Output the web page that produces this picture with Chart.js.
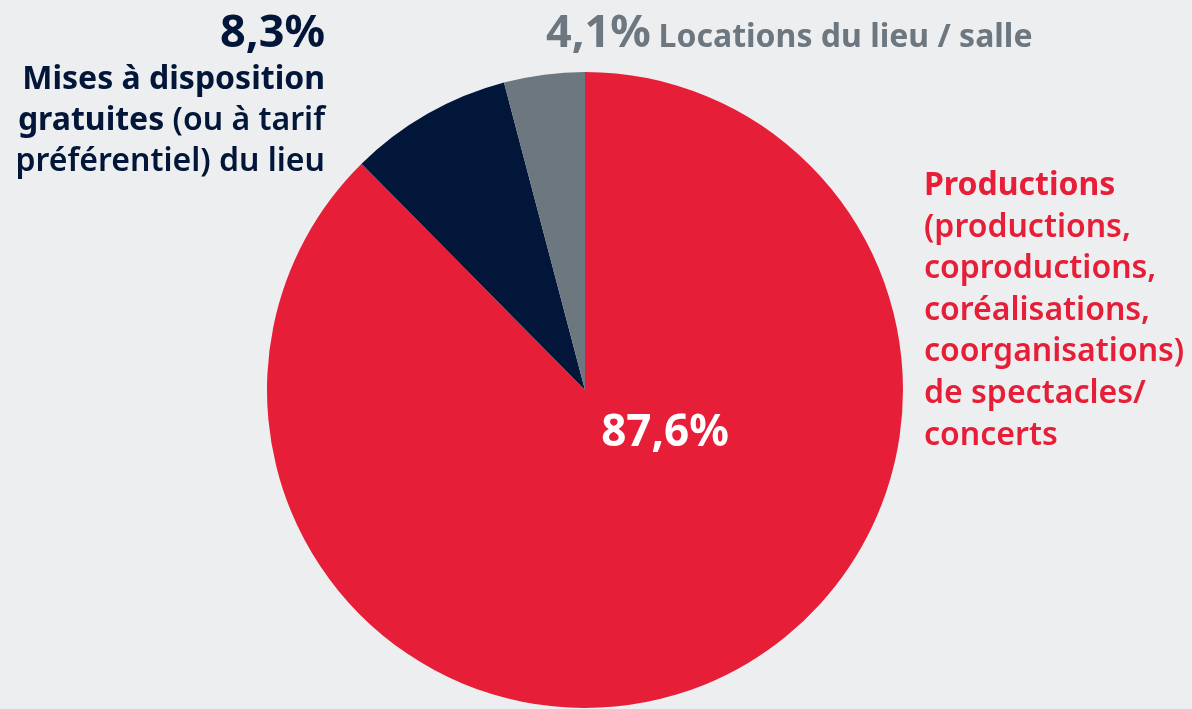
<!DOCTYPE html>
<html><head><meta charset="utf-8">
<script src="https://cdn.jsdelivr.net/npm/chart.js@4.4.1/dist/chart.umd.min.js"></script>
<style>
html,body{margin:0;padding:0;background:#EDEEF0;}
#wrap{width:1192px;height:709px;position:relative;}
</style></head><body>
<div id="wrap"><canvas id="c" width="1192" height="709"></canvas></div>
<script>
const categories = ["Productions (productions, coproductions, coréalisations, coorganisations) de spectacles/concerts", "Mises à disposition gratuites (ou à tarif préférentiel) du lieu", "Locations du lieu / salle"];
const values = [87.6, 8.3, 4.1];
const valueLabels = ["87,6%", "8,3%", "4,1%"];
const colors = ["#E61E37", "#011638", "#6C7780"];

const FONT = "'Noto Sans', 'Open Sans', sans-serif";
const MED = "600";

function drawRuns(ctx, runs, x, y, align, size, color) {
  let widths = runs.map(r => { ctx.font = r[1] + " " + size + "px " + FONT; return ctx.measureText(r[0]).width; });
  let total = widths.reduce((a, b) => a + b, 0);
  let cx = align === "right" ? x - total : x;
  ctx.fillStyle = color;
  ctx.textAlign = "left";
  ctx.textBaseline = "alphabetic";
  runs.forEach((r, i) => { ctx.font = r[1] + " " + size + "px " + FONT; ctx.fillText(r[0], cx, y); cx += widths[i]; });
  return total;
}

const labelPlugin = {
  id: "labels",
  afterDraw(chart) {
    const ctx = chart.ctx;
    ctx.save();
    // 8,3% block
    drawRuns(ctx, [[valueLabels[1], "bold"]], 325, 47, "right", 45, colors[1]);
    drawRuns(ctx, [["Mises à disposition", "bold"]], 325, 89, "right", 32, colors[1]);
    drawRuns(ctx, [["gratuites ", "bold"], ["(ou à tarif", MED]], 325, 130, "right", 32, colors[1]);
    drawRuns(ctx, [["préférentiel) du lieu", MED]], 325, 171, "right", 32, colors[1]);
    // 4,1% block
    ctx.font = "bold 45px " + FONT;
    const w41 = ctx.measureText(valueLabels[2] + " ").width;
    drawRuns(ctx, [[valueLabels[2] + " ", "bold"]], 546, 47, "left", 45, colors[2]);
    drawRuns(ctx, [["Locations du lieu / salle", "bold"]], 546 + w41 - 4, 47, "left", 32, colors[2]);
    // Productions block
    const lines = [["Productions", "bold"], ["(productions,", MED], ["coproductions,", MED], ["coréalisations,", MED], ["coorganisations)", MED], ["de spectacles/", MED], ["concerts", MED]];
    lines.forEach((l, i) => drawRuns(ctx, [l], 924, 195 + i * 41.6, "left", 32, colors[0]));
    // center value
    ctx.font = "bold 44px " + FONT;
    ctx.fillStyle = "#FFFFFF";
    ctx.textAlign = "center";
    ctx.textBaseline = "alphabetic";
    ctx.fillText(valueLabels[0], 665, 446);
    ctx.restore();
  }
};

new Chart(document.getElementById("c"), {
  type: "pie",
  data: { labels: categories, datasets: [{ data: values, backgroundColor: colors, borderWidth: 0 }] },
  options: {
    responsive: false,
    animation: false,
    layout: { padding: { left: 267, right: 289, top: 72, bottom: 1 } },
    plugins: { legend: { display: false }, tooltip: { enabled: false } }
  },
  plugins: [labelPlugin]
});
</script>
</body></html>
